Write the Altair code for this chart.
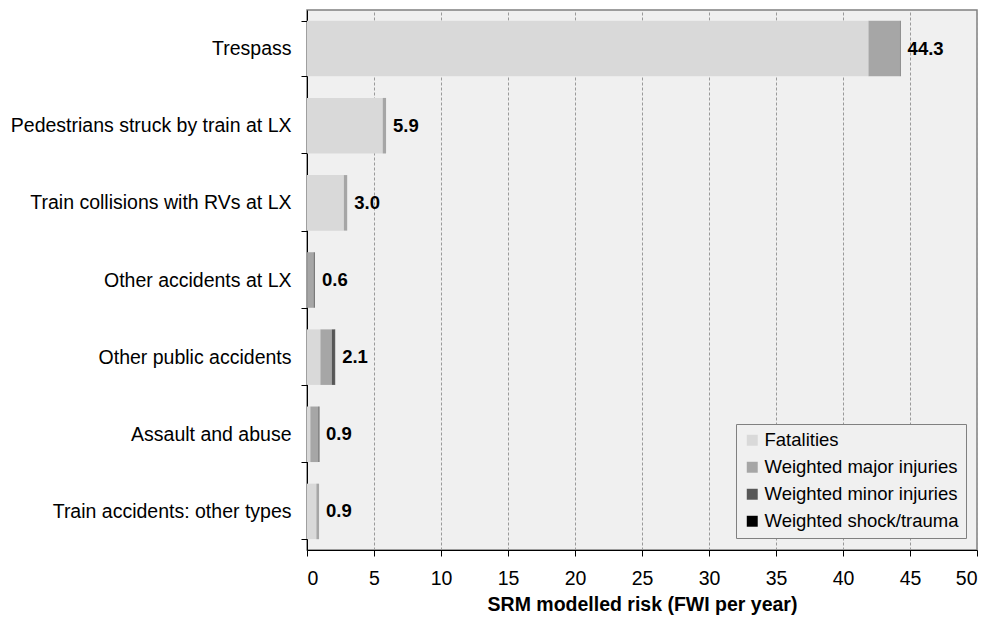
import altair as alt
import pandas as pd

categories = [
    "Trespass",
    "Pedestrians struck by train at LX",
    "Train collisions with RVs at LX",
    "Other accidents at LX",
    "Other public accidents",
    "Assault and abuse",
    "Train accidents: other types",
]
series = ["Fatalities", "Weighted major injuries", "Weighted minor injuries", "Weighted shock/trauma"]
fatalities = [41.9, 5.65, 2.75, 0.05, 1.0, 0.25, 0.7]
major = [2.35, 0.25, 0.25, 0.45, 0.85, 0.6, 0.2]
minor = [0.05, 0.0, 0.0, 0.08, 0.23, 0.08, 0.0]
shock = [0.0, 0.0, 0.0, 0.0, 0.02, 0.0, 0.0]
totals = [44.3, 5.9, 3.0, 0.6, 2.1, 0.9, 0.9]
total_labels = ["44.3", "5.9", "3.0", "0.6", "2.1", "0.9", "0.9"]
colors = ["#d9d9d9", "#a6a6a6", "#575757", "#000000"]

rows = []
for i, c in enumerate(categories):
    for j, (s, vals) in enumerate(zip(series, [fatalities, major, minor, shock])):
        rows.append({"category": c, "series": s, "value": vals[i], "order": j})
df = pd.DataFrame(rows)
tot = pd.DataFrame({"category": categories, "total": totals, "label": total_labels})

FONT = "Liberation Sans"
FS = 19.5

y_enc = alt.Y("category:N", sort=categories, title=None,
              scale=alt.Scale(paddingInner=0.28, paddingOuter=0.14),
              axis=alt.Axis(tickBand="extent", labelFontSize=FS, labelColor="#000",
                            labelPadding=10, tickSize=6, tickColor="#000",
                            domainColor="#000", labelLimit=400, grid=False))

bars = alt.Chart(df).mark_bar().encode(
    x=alt.X("value:Q", stack="zero", title="SRM modelled risk (FWI per year)",
            scale=alt.Scale(domain=[0, 50], nice=False),
            axis=alt.Axis(values=list(range(0, 55, 5)), labelFontSize=FS, labelColor="#000",
                          titleFontSize=FS, titleFontWeight="bold", titleColor="#000",
                          labelPadding=13, titlePadding=8, tickSize=6, tickColor="#000",
                          domainColor="#000", grid=True, gridDash=[3, 2],
                          gridColor="#9a9a9a", gridWidth=1)),
    y=y_enc,
    color=alt.Color("series:N", sort=series,
                    scale=alt.Scale(domain=series, range=colors),
                    legend=alt.Legend(title=None, orient="none", legendX=429, legendY=414,
                                      symbolType="square", symbolSize=120,
                                      symbolStrokeWidth=0, labelFontSize=18.5,
                                      labelColor="#000", rowPadding=8,
                                      padding=7, strokeColor="#808080",
                                      fillColor="#f0f0f0", labelLimit=400,
                                      labelOffset=3)),
    order=alt.Order("order:Q"),
)

labels = alt.Chart(tot).mark_text(align="left", baseline="middle", dx=7,
                                  fontSize=18.5, fontWeight="bold", font=FONT,
                                  color="#000").encode(
    x=alt.X("total:Q"),
    y=alt.Y("category:N", sort=categories),
    text="label:N",
)

chart = (bars + labels).properties(
    width=670, height=540,
    autosize=alt.AutoSizeParams(type="none"),
    padding={"left": 299, "top": 2, "right": 4, "bottom": 70},
    background="white",
).configure(font=FONT).configure_view(
    fill="#f0f0f0", stroke="#808080", strokeWidth=1.5
).configure_axis(labelFont=FONT, titleFont=FONT).configure_legend(labelFont=FONT)

chart.save("out.html", embed_options={"renderer": "svg", "actions": False})
